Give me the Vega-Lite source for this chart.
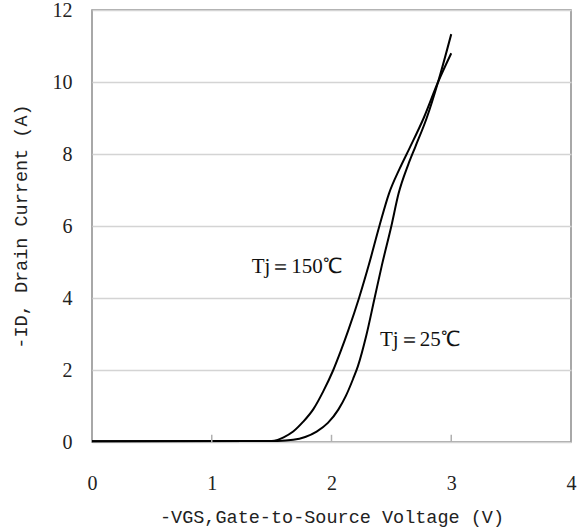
{
  "$schema": "https://vega.github.io/schema/vega-lite/v6.json",
  "autosize": {"type": "none"},
  "padding": {"left": 92, "top": 10, "right": 10, "bottom": 89},
  "width": 479,
  "height": 432,
  "background": "white",
  "config": {
    "view": {"stroke": "#8c8c8c", "strokeWidth": 1.5},
    "axis": {"labelFont": "Liberation Serif", "labelFontSize": 20, "labelColor": "#222", "titleFont": "Liberation Mono", "titleFontSize": 18.5, "titleFontWeight": "normal", "titleColor": "#222"}
  },
  "datasets": {
    "curves": [
      {"vgs": 0, "id": 0.02, "tj": "150"},
      {"vgs": 1.5, "id": 0.03, "tj": "150"},
      {"vgs": 1.55, "id": 0.06, "tj": "150"},
      {"vgs": 1.6, "id": 0.13, "tj": "150"},
      {"vgs": 1.68, "id": 0.29, "tj": "150"},
      {"vgs": 1.76, "id": 0.55, "tj": "150"},
      {"vgs": 1.85, "id": 0.92, "tj": "150"},
      {"vgs": 1.93, "id": 1.4, "tj": "150"},
      {"vgs": 2.015, "id": 2.0, "tj": "150"},
      {"vgs": 2.08, "id": 2.55, "tj": "150"},
      {"vgs": 2.14, "id": 3.1, "tj": "150"},
      {"vgs": 2.23, "id": 4.0, "tj": "150"},
      {"vgs": 2.31, "id": 4.9, "tj": "150"},
      {"vgs": 2.4, "id": 6.0, "tj": "150"},
      {"vgs": 2.48, "id": 6.9, "tj": "150"},
      {"vgs": 2.57, "id": 7.6, "tj": "150"},
      {"vgs": 2.65, "id": 8.15, "tj": "150"},
      {"vgs": 2.77, "id": 9.0, "tj": "150"},
      {"vgs": 2.89, "id": 10.0, "tj": "150"},
      {"vgs": 3.0, "id": 10.8, "tj": "150"},
      {"vgs": 0, "id": 0.02, "tj": "25"},
      {"vgs": 1.55, "id": 0.03, "tj": "25"},
      {"vgs": 1.68, "id": 0.06, "tj": "25"},
      {"vgs": 1.78, "id": 0.14, "tj": "25"},
      {"vgs": 1.876, "id": 0.29, "tj": "25"},
      {"vgs": 1.97, "id": 0.53, "tj": "25"},
      {"vgs": 2.057, "id": 0.9, "tj": "25"},
      {"vgs": 2.12, "id": 1.28, "tj": "25"},
      {"vgs": 2.18, "id": 1.75, "tj": "25"},
      {"vgs": 2.22, "id": 2.1, "tj": "25"},
      {"vgs": 2.29, "id": 2.95, "tj": "25"},
      {"vgs": 2.36, "id": 4.0, "tj": "25"},
      {"vgs": 2.42, "id": 4.9, "tj": "25"},
      {"vgs": 2.5, "id": 6.0, "tj": "25"},
      {"vgs": 2.56, "id": 6.9, "tj": "25"},
      {"vgs": 2.64, "id": 7.7, "tj": "25"},
      {"vgs": 2.7, "id": 8.2, "tj": "25"},
      {"vgs": 2.795, "id": 9.0, "tj": "25"},
      {"vgs": 2.89, "id": 10.0, "tj": "25"},
      {"vgs": 3.0, "id": 11.33, "tj": "25"}
    ],
    "labels": [
      {"vgs": 1.333, "id": 4.86, "text": "Tj＝150℃"},
      {"vgs": 2.405, "id": 2.83, "text": "Tj＝25℃"}
    ],
    "ticks": [
      {"vgs": 1},
      {"vgs": 2},
      {"vgs": 3}
    ]
  },
  "layer": [
    {
      "data": {"name": "curves"},
      "mark": {"type": "line", "color": "black", "strokeWidth": 2, "interpolate": "monotone"},
      "encoding": {
        "x": {"field": "vgs", "type": "quantitative", "scale": {"domain": [0, 4], "nice": false},
          "axis": {"title": "-VGS,Gate-to-Source Voltage (V)", "values": [0, 1, 2, 3, 4], "format": "d", "grid": false, "domain": false, "ticks": false, "labelPadding": 31, "titlePadding": 14, "labelFlush": false}},
        "y": {"field": "id", "type": "quantitative", "scale": {"domain": [0, 12], "nice": false},
          "axis": {"title": "-ID, Drain Current (A)", "values": [0, 2, 4, 6, 8, 10, 12], "format": "d", "grid": true, "gridColor": "#d4d4d4", "gridWidth": 1.5, "domain": false, "ticks": false, "labelPadding": 20, "titlePadding": 22, "labelFlush": false}},
        "detail": {"field": "tj", "type": "nominal"}
      }
    },
    {
      "data": {"name": "ticks"},
      "mark": {"type": "rule", "color": "#b0b0b0", "strokeWidth": 1.5},
      "encoding": {
        "x": {"field": "vgs", "type": "quantitative"},
        "y": {"datum": 0},
        "y2": {"datum": 0.2}
      }
    },
    {
      "data": {"name": "labels"},
      "mark": {"type": "text", "align": "left", "baseline": "middle", "font": "Liberation Serif", "fontSize": 21, "color": "#111"},
      "encoding": {
        "x": {"field": "vgs", "type": "quantitative"},
        "y": {"field": "id", "type": "quantitative"},
        "text": {"field": "text"}
      }
    }
  ]
}
